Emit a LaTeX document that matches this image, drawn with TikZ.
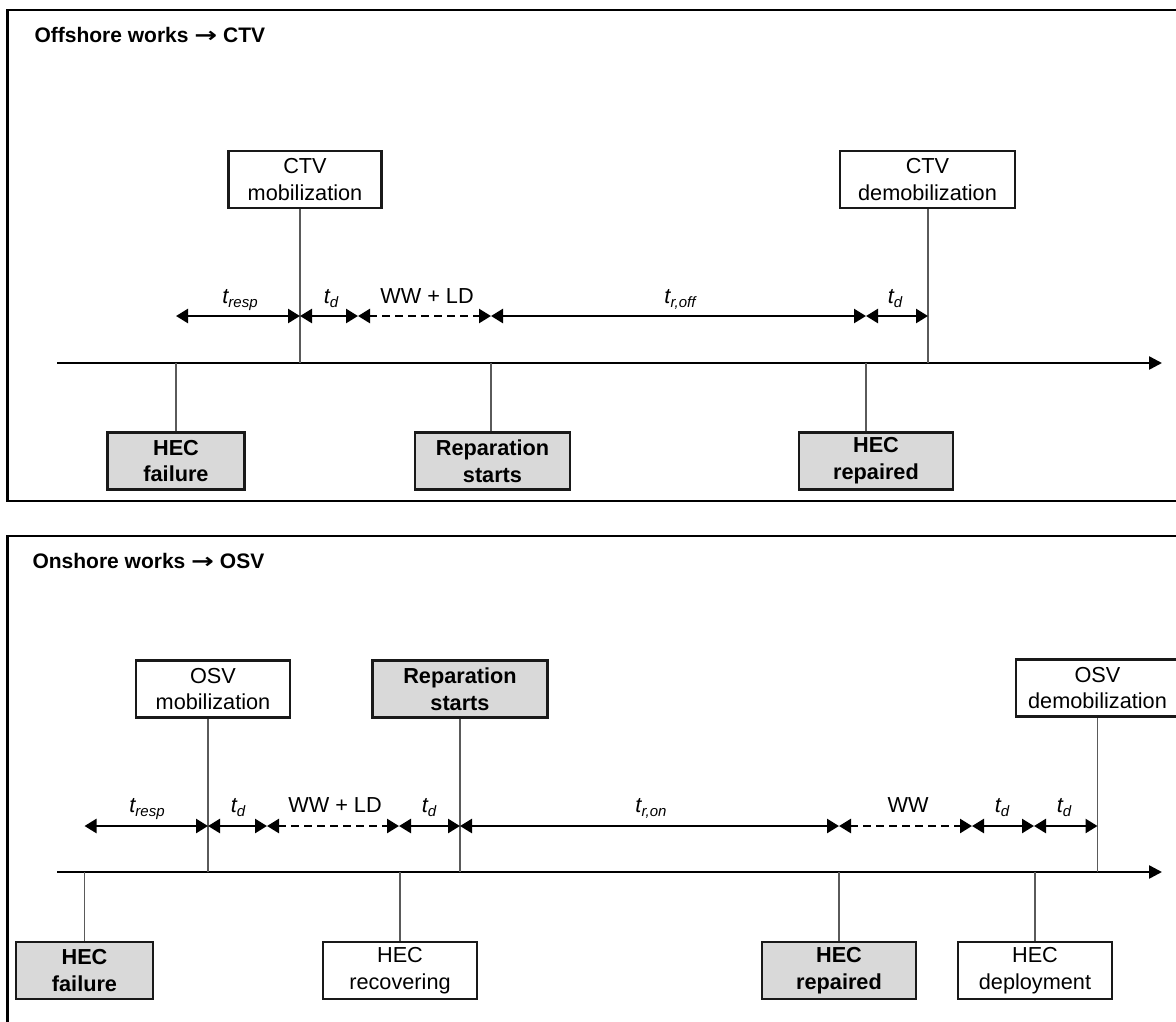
\documentclass[tikz,border=0pt]{standalone}
\usepackage{fontspec}
\setmainfont{Liberation Sans}
\newfontfamily\arrowfont{DejaVu Sans}
\usetikzlibrary{arrows.meta}
\definecolor{boxgray}{RGB}{217,217,217}
\definecolor{conngray}{RGB}{90,90,90}
\newcommand\tsub[1]{\raisebox{-4.5pt}{\fontsize{15}{16}\selectfont #1}}
\newcommand\ttlarrow{ {\arrowfont\bfseries\scalebox{1.3}[1.0]{→}} }
\begin{document}
\begin{tikzpicture}[x=1pt,y=-1pt,
  box/.style={draw=black!90, line width=2.2pt, minimum height=57pt, inner sep=0pt, align=center, font=\fontsize{21.7}{26.7}\selectfont},
  evt/.style={box, fill=boxgray, font=\fontsize{21.7}{26.7}\selectfont\bfseries},
  conn/.style={draw=conngray, line width=1.4pt},
  axisline/.style={line width=2.5pt, -{Triangle[length=13pt,width=13pt]}},
  dur/.style={line width=2.5pt, {Triangle[length=12pt,width=14pt]}-{Triangle[length=12pt,width=14pt]}},
  waitdur/.style={dur, dash pattern=on 8pt off 5pt},
  lbl/.style={font=\fontsize{21.7}{24}\selectfont\itshape, anchor=base},
  lblup/.style={font=\fontsize{21.7}{24}\selectfont, anchor=base},
  ttl/.style={font=\fontsize{21}{24}\selectfont\bfseries, anchor=base west},
  panel/.style={draw, line width=2.2pt}]
\useasboundingbox (0,0) rectangle (1176,1021);
\clip (0,0) rectangle (1176,1021);
% panels
\draw[panel] (7.5,10) rectangle (1200,501);
\draw[panel] (7.5,536) rectangle (1200,1060);
\node[ttl] (t1) at (31,42) {Offshore works\ttlarrow CTV};
\node[ttl] (t2) at (29,568) {Onshore works\ttlarrow OSV};

% ---------- top panel ----------
\coordinate (ax1s) at (57,363);
\coordinate (ax1e) at (1162,363);
\draw[axisline] (ax1s) -- (ax1e);

\node[box, minimum width=153pt] (mob1) at (305,179.5) {CTV\\mobilization};
\node[box, minimum width=175pt] (dmob1) at (927.5,179.5) {CTV\\demobilization};
\node[evt, minimum width=137pt] (fail1) at (176,461) {HEC\\failure};
\node[evt, minimum width=155pt] (rep1) at (492.5,461) {Reparation\\starts};
\node[evt, minimum width=154pt] (repd1) at (876,461) {HEC\\repaired};

\coordinate (p1a) at (176,363);
\coordinate (p1b) at (300,363);
\coordinate (p1d) at (491,363);
\coordinate (p1e) at (866,363);
\coordinate (p1f) at (928,363);
\draw[conn] (p1b) -- (p1b |- mob1.south);
\draw[conn] (p1f) -- (p1f |- dmob1.south);
\draw[conn] (p1a) -- (p1a |- fail1.north);
\draw[conn] (p1d) -- (p1d |- rep1.north);
\draw[conn] (p1e) -- (p1e |- repd1.north);

\coordinate (r1a) at (176,316);
\coordinate (r1b) at (300,316);
\coordinate (r1c) at (358,316);
\coordinate (r1d) at (491,316);
\coordinate (r1e) at (866,316);
\coordinate (r1f) at (928,316);
\draw[dur] (r1a) -- (r1b);
\draw[dur] (r1b) -- (r1c);
\draw[waitdur] (r1c) -- (r1d);
\draw[dur] (r1d) -- (r1e);
\draw[dur] (r1e) -- (r1f);
\node[lbl] (l1a) at (240,303) {t\tsub{resp}};
\node[lbl] (l1b) at (331,303) {t\tsub{d}};
\node[lblup] (l1c) at (427,303) {WW + LD};
\node[lbl] (l1d) at (680,303) {t\tsub{r,off}};
\node[lbl] (l1e) at (895,303) {t\tsub{d}};

% ---------- bottom panel ----------
\coordinate (ax2s) at (57,872);
\coordinate (ax2e) at (1162,872);
\draw[axisline] (ax2s) -- (ax2e);

\node[box, minimum width=154pt] (mob2) at (213,689) {OSV\\mobilization};
\node[evt, minimum width=175pt] (rep2) at (460,689) {Reparation\\starts};
\node[box, minimum width=163pt] (dmob2) at (1097.5,688) {OSV\\demobilization};
\node[evt, minimum width=137pt] (fail2) at (84.5,970.5) {HEC\\failure};
\node[box, minimum width=154pt] (recov2) at (400,970.5) {HEC\\recovering};
\node[evt, minimum width=154pt] (repd2) at (839,970.5) {HEC\\repaired};
\node[box, minimum width=154pt] (depl2) at (1035,970.5) {HEC\\deployment};

\coordinate (p2a) at (84.5,872);
\coordinate (p2b) at (208,872);
\coordinate (p2d) at (400,872);
\coordinate (p2e) at (460,872);
\coordinate (p2f) at (839,872);
\coordinate (p2h) at (1035,872);
\coordinate (p2i) at (1097.5,872);
\draw[conn] (p2b) -- (p2b |- mob2.south);
\draw[conn] (p2e) -- (p2e |- rep2.south);
\draw[conn] (p2i) -- (p2i |- dmob2.south);
\draw[conn] (p2a) -- (p2a |- fail2.north);
\draw[conn] (p2d) -- (p2d |- recov2.north);
\draw[conn] (p2f) -- (p2f |- repd2.north);
\draw[conn] (p2h) -- (p2h |- depl2.north);

\coordinate (r2a) at (84.5,826);
\coordinate (r2b) at (208,826);
\coordinate (r2c) at (267,826);
\coordinate (r2d) at (399,826);
\coordinate (r2e) at (460,826);
\coordinate (r2f) at (839,826);
\coordinate (r2g) at (972,826);
\coordinate (r2h) at (1034,826);
\coordinate (r2i) at (1097.5,826);
\draw[dur] (r2a) -- (r2b);
\draw[dur] (r2b) -- (r2c);
\draw[waitdur] (r2c) -- (r2d);
\draw[dur] (r2d) -- (r2e);
\draw[dur] (r2e) -- (r2f);
\draw[waitdur] (r2f) -- (r2g);
\draw[dur] (r2g) -- (r2h);
\draw[dur] (r2h) -- (r2i);
\node[lbl] (l2a) at (147,812) {t\tsub{resp}};
\node[lbl] (l2b) at (238,812) {t\tsub{d}};
\node[lblup] (l2c) at (335,812) {WW + LD};
\node[lbl] (l2d) at (429,812) {t\tsub{d}};
\node[lbl] (l2e) at (651,812) {t\tsub{r,on}};
\node[lblup] (l2f) at (908,812) {WW};
\node[lbl] (l2g) at (1002,812) {t\tsub{d}};
\node[lbl] (l2h) at (1064,812) {t\tsub{d}};
\end{tikzpicture}
\end{document}
